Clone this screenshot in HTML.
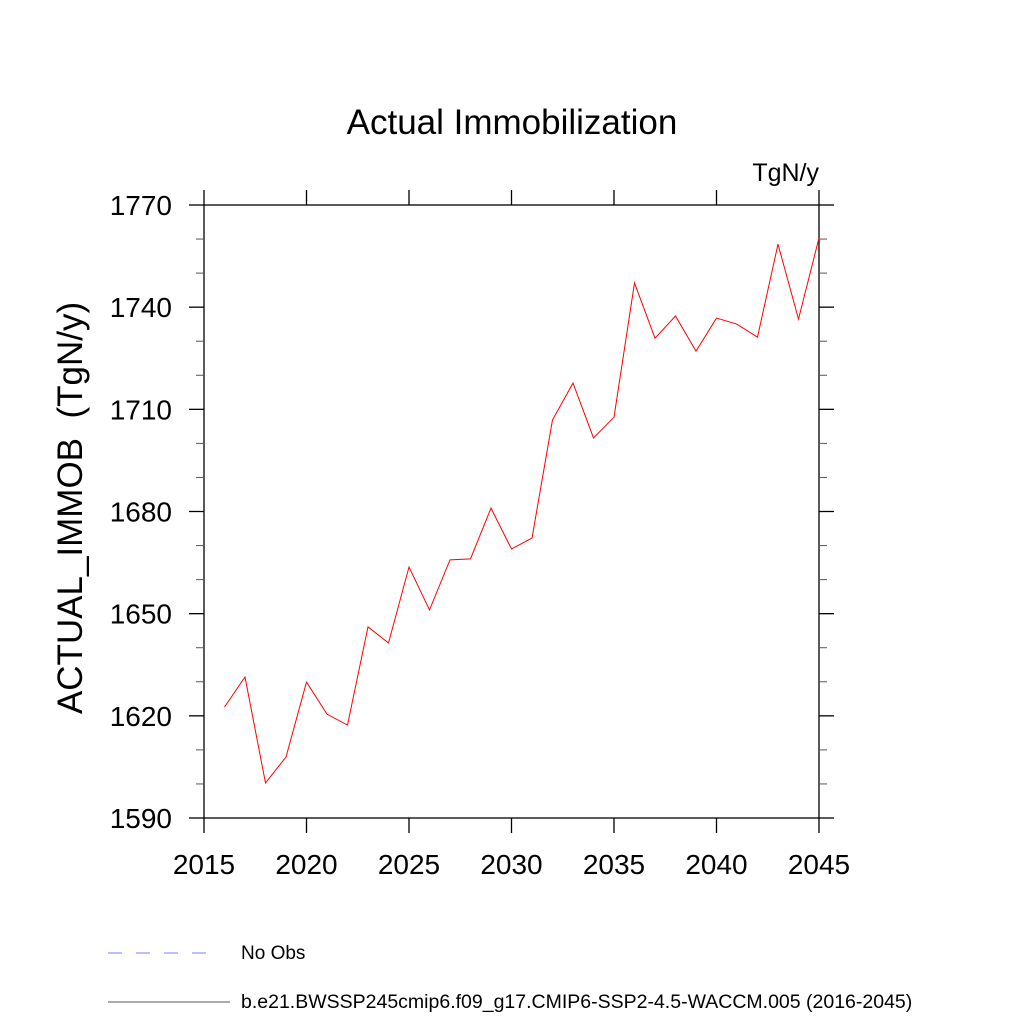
<!DOCTYPE html>
<html><head><meta charset="utf-8"><style>
body{margin:0;background:#fff}
svg{display:block;font-family:"Liberation Sans",sans-serif}
</style></head><body>
<svg id="chart" width="1024" height="1024" viewBox="0 0 1024 1024">
<text x="512" y="134" font-size="35" text-anchor="middle">Actual Immobilization</text>
<text x="819" y="181" font-size="25" text-anchor="end">TgN/y</text>
<text transform="translate(82,508) rotate(-90)" font-size="35" text-anchor="middle" xml:space="preserve">ACTUAL_IMMOB  (TgN/y)</text>
<g id="axes"></g>
<g id="series"></g>
<g>
<line x1="108" y1="953" x2="218" y2="953" stroke="#7b7bff" stroke-width="1" stroke-dasharray="14,14"/>
<text x="241" y="959" font-size="19">No Obs</text>
<line x1="108" y1="1002" x2="230" y2="1002" stroke="#555" stroke-width="1"/>
<text x="241" y="1008" font-size="19.5">b.e21.BWSSP245cmip6.f09_g17.CMIP6-SSP2-4.5-WACCM.005 (2016-2045)</text>
</g>
</svg>
<script>
const years=[2016,2017,2018,2019,2020,2021,2022,2023,2024,2025,2026,2027,2028,2029,2030,2031,2032,2033,2034,2035,2036,2037,2038,2039,2040,2041,2042,2043,2044,2045];
const values=[1622.6,1631.4,1600.3,1607.9,1629.9,1620.5,1617.3,1646.1,1641.4,1663.7,1651.1,1665.8,1666.1,1681,1669,1672.2,1706.9,1717.7,1701.6,1707.7,1747.1,1730.9,1737.4,1727.1,1736.8,1735,1731.2,1758.5,1736.5,1760.3];
const xTicks=[2015,2020,2025,2030,2035,2040,2045];
const yTicks=[1590,1620,1650,1680,1710,1740,1770];
const yMinor=[1600,1610,1630,1640,1660,1670,1690,1700,1720,1730,1750,1760];
const L=204,R=819,T=205,B=818;
const sx=v=>L+(v-2015)/(2045-2015)*(R-L);
const sy=v=>B-(v-1590)/(1770-1590)*(B-T);
const NS="http://www.w3.org/2000/svg";
const axes=document.getElementById('axes');
function mk(tag,attrs,parent){const e=document.createElementNS(NS,tag);for(const k in attrs)e.setAttribute(k,attrs[k]);parent.appendChild(e);return e;}
const frame=mk('rect',{x:L,y:T,width:R-L,height:B-T,fill:'none',stroke:'#000','stroke-width':1.3},axes);


xTicks.forEach(t=>{const x=sx(t);
 const a=mk('line',{x1:x,y1:B,x2:x,y2:B+15,stroke:'#000','stroke-width':1.3},axes);
 
 
 const b=mk('line',{x1:x,y1:T,x2:x,y2:T-15,stroke:'#000','stroke-width':1.3},axes);
 
 
 const l=mk('text',{x:x,y:874,'font-size':28,'text-anchor':'middle'},axes);l.textContent=t;
 
 
});
yTicks.forEach(t=>{const y=sy(t);
 const a=mk('line',{x1:L-15,y1:y,x2:L,y2:y,stroke:'#000','stroke-width':1.3},axes);
 
 
 const b=mk('line',{x1:R,y1:y,x2:R+15,y2:y,stroke:'#000','stroke-width':1.3},axes);
 
 
 const l=mk('text',{x:172,y:y+10,'font-size':28,'text-anchor':'end'},axes);l.textContent=t;
 
 
});
yMinor.forEach(t=>{const y=sy(t);
 const a=mk('line',{x1:L-8,y1:y,x2:L,y2:y,stroke:'#555','stroke-width':1},axes);
 
 
 const b=mk('line',{x1:R,y1:y,x2:R+8,y2:y,stroke:'#555','stroke-width':1},axes);
 
 
});
const pts=years.map((y,i)=>sx(y)+','+sy(values[i])).join(' ');
const line=mk('polyline',{points:pts,fill:'none',stroke:'#ff0000','stroke-width':1},document.getElementById('series'));


</script>
</body></html>
